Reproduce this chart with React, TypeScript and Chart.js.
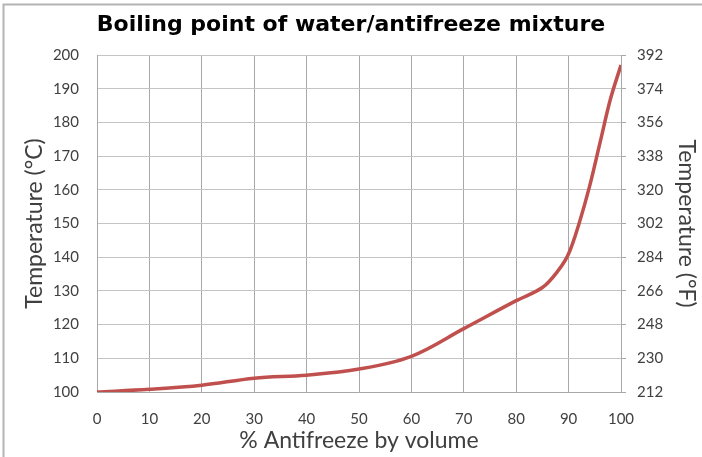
import React, { useEffect, useRef } from "react";
import { Chart, registerables } from "chart.js";

Chart.register(...registerables);

const percentAntifreeze = [0, 10, 20, 30, 40, 50, 60, 70, 80, 85, 88, 90, 92, 94, 96, 98, 100];
const boilingPointC = [100, 100.8, 102, 104.1, 105, 106.8, 110.6, 118.8, 127.1, 131, 136, 141, 150, 161, 174, 187, 197];
const celsiusRange = [100, 200];
const fahrenheitRange = [212, 392];

const TICK_FONT = { family: "Lato, 'Open Sans', sans-serif", size: 15 };
const AXIS_TITLE_FONT = { family: "Lato, 'Open Sans', sans-serif", size: 23 };
const TEXT_COLOR = "#404040";

const framePlugin = {
  id: "frame",
  beforeDraw(chart: any) {
    const ctx = chart.ctx;
    ctx.save();
    ctx.fillStyle = "#ffffff";
    ctx.fillRect(0, 0, chart.width, chart.height);
    ctx.strokeStyle = "#b4b4b4";
    ctx.lineWidth = 2;
    ctx.beginPath();
    ctx.moveTo(3.5, chart.height);
    ctx.lineTo(3.5, 4.5);
    ctx.lineTo(chart.width, 4.5);
    ctx.stroke();
    ctx.restore();
  },
};

export default function App() {
  const ref = useRef<HTMLCanvasElement | null>(null);

  useEffect(() => {
    if (!ref.current) return;
    const chart = new Chart(ref.current, {
      type: "line",
      data: {
        datasets: [
          {
            data: percentAntifreeze.map((x, i) => ({ x, y: boilingPointC[i] })),
            borderColor: "#c0504d",
            borderWidth: 3.5,
            pointRadius: 0,
            tension: 0.35,
            fill: false,
            yAxisID: "y",
          },
        ],
      },
      options: {
        animation: false,
        responsive: false,
        layout: { padding: 0 },
        plugins: {
          legend: { display: false },
          tooltip: { enabled: false },
          title: {
            display: true,
            text: "Boiling point of water/antifreeze mixture",
            color: "#000000",
            font: { family: "'DejaVu Sans', sans-serif", size: 22, weight: "bold", lineHeight: 1.2 },
            padding: { top: 12.5, bottom: 16.1 },
          },
        },
        scales: {
          x: {
            type: "linear",
            min: 0,
            max: 100,
            ticks: { stepSize: 10, color: TEXT_COLOR, font: TICK_FONT, padding: 18, maxRotation: 0, autoSkip: false },
            grid: { color: "#a8a8a8", drawTicks: false, lineWidth: 1 },
            border: { color: "#a8a8a8" },
            title: {
              display: true,
              text: "% Antifreeze by volume",
              color: TEXT_COLOR,
              font: AXIS_TITLE_FONT,
              padding: { top: 4, bottom: 3 },
            },
            afterFit(scale: any) {
              scale.height = 65;
            },
          },
          y: {
            type: "linear",
            position: "left",
            min: celsiusRange[0],
            max: celsiusRange[1],
            ticks: { stepSize: 10, color: TEXT_COLOR, font: TICK_FONT, padding: 18 },
            grid: { color: "#c4c4c4", drawTicks: false, lineWidth: 1 },
            border: { color: "#a8a8a8" },
            title: {
              display: true,
              text: "Temperature (°C)",
              color: TEXT_COLOR,
              font: AXIS_TITLE_FONT,
              padding: { top: 21, bottom: 0 },
            },
            afterFit(scale: any) {
              scale.width = 97;
            },
          },
          y2: {
            type: "linear",
            position: "right",
            min: fahrenheitRange[0],
            max: fahrenheitRange[1],
            ticks: { stepSize: 18, color: TEXT_COLOR, font: TICK_FONT, padding: 11 },
            grid: { drawOnChartArea: false, drawTicks: true, tickLength: 5, color: "#a8a8a8" },
            border: { color: "#a8a8a8" },
            title: {
              display: true,
              text: "Temperature (°F)",
              color: TEXT_COLOR,
              font: AXIS_TITLE_FONT,
              padding: { top: 2, bottom: 0 },
            },
            afterFit(scale: any) {
              scale.width = 81;
            },
          },
        },
      },
      plugins: [framePlugin],
    } as any);
    return () => chart.destroy();
  }, []);

  return (
    <div style={{ position: "fixed", left: 0, top: 0, width: 702, height: 457, background: "#fff" }}>
      <canvas ref={ref} width={702} height={457} style={{ display: "block" }} />
    </div>
  );
}
